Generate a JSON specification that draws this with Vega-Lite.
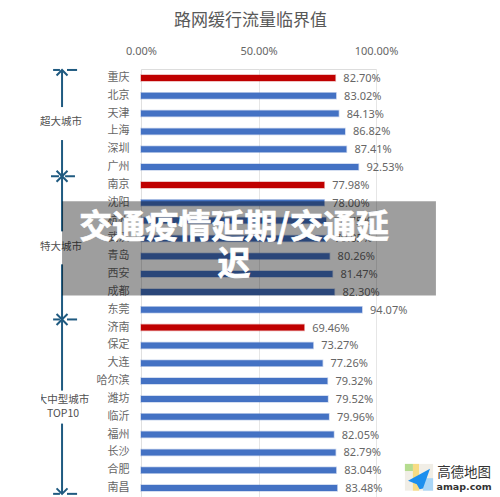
{
  "$schema": "https://vega.github.io/schema/vega-lite/v6.json",
  "width": 235,
  "height": 428,
  "autosize": "none",
  "padding": {"left": 141, "top": 69, "right": 124, "bottom": 0},
  "background": "white",
  "title": {
    "text": "路网缓行流量临界值",
    "font": "Noto Sans CJK SC",
    "fontSize": 17,
    "fontWeight": "normal",
    "color": "#595959",
    "anchor": "middle",
    "dx": -8,
    "offset": 15
  },
  "datasets": {
    "cities": [
      {"city": "重庆", "value": 0.827, "kind": "low"},
      {"city": "北京", "value": 0.8302, "kind": "other"},
      {"city": "天津", "value": 0.8413, "kind": "other"},
      {"city": "上海", "value": 0.8682, "kind": "other"},
      {"city": "深圳", "value": 0.8741, "kind": "other"},
      {"city": "广州", "value": 0.9253, "kind": "other"},
      {"city": "南京", "value": 0.7798, "kind": "low"},
      {"city": "沈阳", "value": 0.78, "kind": "other"},
      {"city": "杭州", "value": 0.7875, "kind": "other"},
      {"city": "武汉", "value": 0.7905, "kind": "other"},
      {"city": "青岛", "value": 0.8026, "kind": "other"},
      {"city": "西安", "value": 0.8147, "kind": "other"},
      {"city": "成都", "value": 0.823, "kind": "other"},
      {"city": "东莞", "value": 0.9407, "kind": "other"},
      {"city": "济南", "value": 0.6946, "kind": "low"},
      {"city": "保定", "value": 0.7327, "kind": "other"},
      {"city": "大连", "value": 0.7726, "kind": "other"},
      {"city": "哈尔滨", "value": 0.7932, "kind": "other"},
      {"city": "潍坊", "value": 0.7952, "kind": "other"},
      {"city": "临沂", "value": 0.7996, "kind": "other"},
      {"city": "福州", "value": 0.8205, "kind": "other"},
      {"city": "长沙", "value": 0.8279, "kind": "other"},
      {"city": "合肥", "value": 0.8304, "kind": "other"},
      {"city": "南昌", "value": 0.8348, "kind": "other"}
    ]
  },
  "layer": [
    {
      "data": {"name": "cities"},
      "mark": {"type": "bar", "size": 6, "strokeWidth": 1.5, "strokeOpacity": 0.3},
      "encoding": {
        "x": {
          "field": "value",
          "type": "quantitative",
          "scale": {"domain": [0, 1], "nice": false},
          "axis": {
            "orient": "top",
            "title": null,
            "values": [0, 0.5, 1],
            "format": ".2%",
            "domain": false,
            "ticks": false,
            "labelFlush": false,
            "labelFont": "Noto Sans",
            "labelFontSize": 11,
            "labelColor": "#666666",
            "labelPadding": 13,
            "gridColor": "#e6e6e6"
          }
        },
        "y": {
          "field": "city",
          "type": "nominal",
          "sort": null,
          "scale": {"paddingInner": 0, "paddingOuter": 0},
          "axis": {
            "title": null,
            "ticks": false,
            "domainColor": "#e0e0e0",
            "labelFont": "Noto Sans CJK SC",
            "labelFontSize": 11,
            "labelColor": "#666666",
            "labelPadding": 12
          }
        },
        "color": {
          "field": "kind",
          "type": "nominal",
          "scale": {"domain": ["low", "other"], "range": ["#c00000", "#4472c4"]},
          "legend": null
        },
        "stroke": {
          "field": "kind",
          "type": "nominal",
          "scale": {"domain": ["low", "other"], "range": ["#c00000", "#4472c4"]},
          "legend": null
        }
      }
    },
    {
      "data": {"name": "cities"},
      "mark": {"type": "text", "align": "left", "baseline": "middle", "dx": 8, "dy": 1, "font": "Noto Sans", "fontSize": 11, "color": "#666666"},
      "encoding": {
        "x": {"field": "value", "type": "quantitative", "scale": {"domain": [0, 1], "nice": false}},
        "y": {"field": "city", "type": "nominal", "sort": null, "scale": {"paddingInner": 0, "paddingOuter": 0}, "axis": null},
        "text": {"field": "value", "type": "quantitative", "format": ".2%"}
      }
    },
    {
      "data": {"values": [
        {"x": -0.336, "from": 0.11, "to": 2.19},
        {"x": -0.336, "from": 4.04, "to": 6.07},
        {"x": -0.336, "from": 6.07, "to": 9.16},
        {"x": -0.336, "from": 11.01, "to": 14.1},
        {"x": -0.336, "from": 14.1, "to": 18.09},
        {"x": -0.336, "from": 19.94, "to": 23.88}
      ]},
      "mark": {"type": "rule", "color": "#1f5a80", "strokeWidth": 2},
      "encoding": {
        "x": {"field": "x", "type": "quantitative", "scale": {"domain": [0, 1], "nice": false}},
        "y": {"field": "from", "type": "quantitative", "scale": {"domain": [0.056, 24.056], "reverse": true, "nice": false}, "axis": null},
        "y2": {"field": "to"}
      }
    },
    {
      "data": {"values": [
        {"from": -0.374, "to": -0.345, "row": 0.11},
        {"from": -0.315, "to": -0.272, "row": 0.11},
        {"from": -0.383, "to": -0.349, "row": 6.07},
        {"from": -0.323, "to": -0.281, "row": 6.07},
        {"from": -0.374, "to": -0.345, "row": 14.1},
        {"from": -0.315, "to": -0.272, "row": 14.1},
        {"from": -0.374, "to": -0.345, "row": 23.88},
        {"from": -0.315, "to": -0.272, "row": 23.88}
      ]},
      "mark": {"type": "rule", "color": "#1f5a80", "strokeWidth": 2},
      "encoding": {
        "x": {"field": "from", "type": "quantitative", "scale": {"domain": [0, 1], "nice": false}},
        "x2": {"field": "to"},
        "y": {"field": "row", "type": "quantitative", "scale": {"domain": [0.056, 24.056], "reverse": true, "nice": false}, "axis": null}
      }
    },
    {
      "data": {"values": [
        {"x": -0.336, "row": 0.11, "dir": "up"},
        {"x": -0.336, "row": 6.07, "dir": "down"},
        {"x": -0.336, "row": 6.07, "dir": "up"},
        {"x": -0.336, "row": 14.1, "dir": "down"},
        {"x": -0.336, "row": 14.1, "dir": "up"},
        {"x": -0.336, "row": 23.88, "dir": "down"}
      ]},
      "mark": {"type": "point", "filled": false, "opacity": 1, "size": 120, "strokeWidth": 2, "color": "#1f5a80"},
      "encoding": {
        "x": {"field": "x", "type": "quantitative", "scale": {"domain": [0, 1], "nice": false}},
        "y": {"field": "row", "type": "quantitative", "scale": {"domain": [0.056, 24.056], "reverse": true, "nice": false}, "axis": null},
        "shape": {
          "field": "dir",
          "type": "nominal",
          "scale": {"domain": ["up", "down"], "range": ["M-1,1L0,0L1,1", "M-1,-1L0,0L1,-1"]},
          "legend": null
        }
      }
    },
    {
      "data": {"values": [
        {"x": -0.34, "row": 3.03, "label": "超大城市"},
        {"x": -0.34, "row": 10.06, "label": "特大城市"},
        {"x": -0.332, "row": 18.6, "label": "大中型城市"},
        {"x": -0.332, "row": 19.38, "label": "TOP10"}
      ]},
      "mark": {"type": "text", "align": "center", "baseline": "middle", "font": "Noto Sans CJK SC", "fontSize": 10.5, "color": "#505050"},
      "encoding": {
        "x": {"field": "x", "type": "quantitative", "scale": {"domain": [0, 1], "nice": false}},
        "y": {"field": "row", "type": "quantitative", "scale": {"domain": [0.056, 24.056], "reverse": true, "nice": false}, "axis": null},
        "text": {"field": "label"}
      }
    },
    {
      "data": {"values": [
        {"part": "cover", "x": -0.45, "x2": -0.425, "row": 18.2, "row2": 19},
        {"part": "base", "x": 1.123, "x2": 1.243, "row": 22.2, "row2": 23.7},
        {"part": "yellow", "x": 1.157, "x2": 1.183, "row": 22.2, "row2": 23.7},
        {"part": "green", "x": 1.123, "x2": 1.157, "row": 22.2, "row2": 22.6},
        {"part": "sky", "x": 1.2, "x2": 1.243, "row": 23.0, "row2": 23.7}
      ]},
      "mark": {"type": "rect"},
      "encoding": {
        "x": {"field": "x", "type": "quantitative", "scale": {"domain": [0, 1], "nice": false}},
        "x2": {"field": "x2"},
        "y": {"field": "row", "type": "quantitative", "scale": {"domain": [0.056, 24.056], "reverse": true, "nice": false}, "axis": null},
        "y2": {"field": "row2"},
        "color": {
          "field": "part",
          "type": "nominal",
          "scale": {
            "domain": ["cover", "base", "yellow", "green", "sky"],
            "range": ["#ffffff", "#f1eee6", "#f8dc84", "#b5dc8f", "#a9d6f7"]
          },
          "legend": null
        }
      }
    },
    {
      "data": {"values": [{"x": 1.183, "row": 23.03}]},
      "mark": {
        "type": "point",
        "filled": true,
        "opacity": 1,
        "size": 484,
        "color": "#1c8fee",
        "shape": "M1,-0.91L-1,0.18L-0.2,0.5L0.05,0.95L0.36,0.9Z"
      },
      "encoding": {
        "x": {"field": "x", "type": "quantitative", "scale": {"domain": [0, 1], "nice": false}},
        "y": {"field": "row", "type": "quantitative", "scale": {"domain": [0.056, 24.056], "reverse": true, "nice": false}, "axis": null}
      }
    },
    {
      "data": {"values": [{"x": 1.375, "row": 22.7, "label": "高德地图"}]},
      "mark": {"type": "text", "align": "center", "baseline": "middle", "font": "Noto Sans CJK SC", "fontSize": 13.5, "color": "#333333"},
      "encoding": {
        "x": {"field": "x", "type": "quantitative", "scale": {"domain": [0, 1], "nice": false}},
        "y": {"field": "row", "type": "quantitative", "scale": {"domain": [0.056, 24.056], "reverse": true, "nice": false}, "axis": null},
        "text": {"field": "label"}
      }
    },
    {
      "data": {"values": [{"x": 1.375, "row": 23.48, "label": "amap.com"}]},
      "mark": {"type": "text", "align": "center", "baseline": "middle", "font": "DejaVu Sans", "fontSize": 9.5, "fontWeight": "bold", "color": "#333333"},
      "encoding": {
        "x": {"field": "x", "type": "quantitative", "scale": {"domain": [0, 1], "nice": false}},
        "y": {"field": "row", "type": "quantitative", "scale": {"domain": [0.056, 24.056], "reverse": true, "nice": false}, "axis": null},
        "text": {"field": "label"}
      }
    },
    {
      "data": {"values": [{"x": -0.336, "x2": 1.255, "row": 7.47, "row2": 12.75}]},
      "mark": {"type": "rect", "color": "#000000", "opacity": 0.38},
      "encoding": {
        "x": {"field": "x", "type": "quantitative", "scale": {"domain": [0, 1], "nice": false}},
        "x2": {"field": "x2"},
        "y": {"field": "row", "type": "quantitative", "scale": {"domain": [0.056, 24.056], "reverse": true, "nice": false}, "axis": null},
        "y2": {"field": "row2"}
      }
    },
    {
      "data": {"values": [
        {"x": 0.396, "row": 8.99, "label": "交通疫情延期/交通延"},
        {"x": 0.396, "row": 11.07, "label": "迟"}
      ]},
      "mark": {"type": "text", "align": "center", "baseline": "middle", "font": "Noto Sans CJK SC", "fontSize": 33, "fontWeight": "bold", "color": "#ffffff", "stroke": "#ffffff", "strokeWidth": 0.7},
      "encoding": {
        "x": {"field": "x", "type": "quantitative", "scale": {"domain": [0, 1], "nice": false}},
        "y": {"field": "row", "type": "quantitative", "scale": {"domain": [0.056, 24.056], "reverse": true, "nice": false}, "axis": null},
        "text": {"field": "label"}
      }
    }
  ],
  "resolve": {"scale": {"y": "independent", "color": "independent", "shape": "independent", "stroke": "independent"}}
}
